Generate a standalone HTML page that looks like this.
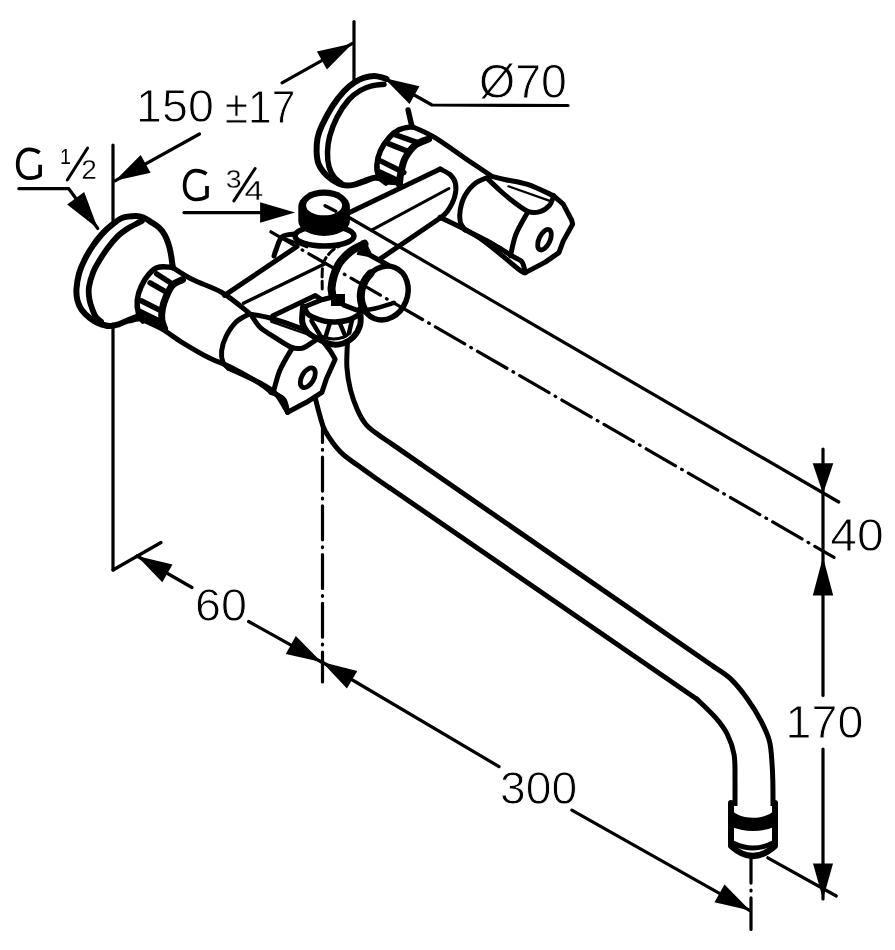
<!DOCTYPE html>
<html><head><meta charset="utf-8"><style>
html,body{margin:0;padding:0;background:#fff;}
svg{display:block;}
text{font-family:"Liberation Sans",sans-serif;fill:#000;stroke:none;}
svg{will-change:transform;}
</style></head><body>
<svg width="895" height="950" viewBox="0 0 895 950" stroke="#000" fill="none" stroke-linecap="round" stroke-linejoin="round">
<line x1="113" y1="145" x2="113" y2="222" stroke-width="3.2" />
<line x1="113" y1="324" x2="113" y2="570" stroke-width="3.2" />
<line x1="113" y1="570" x2="161" y2="542.5" stroke-width="3.2" />
<path d="M137 556 L162.3 582.3 L172.5 564.5 Z" fill="#000" stroke="none"/>
<line x1="137" y1="556" x2="192" y2="587.5" stroke-width="3.2" />
<line x1="248.6" y1="621.5" x2="321.4" y2="662" stroke-width="3.2" />
<path d="M321.4 662 L295.8 636 L285.8 653.9 Z" fill="#000" stroke="none"/>
<text x="0" y="0" transform="translate(195.06 621.08) scale(1.0035 1)" font-size="46.61" style="stroke:#fff;stroke-width:0.9px">60</text>
<line x1="322.5" y1="421" x2="322.5" y2="682" stroke-width="3.2" stroke-dasharray="33.9 7 0.8 7" stroke-dashoffset="12.5"/>
<path d="M322 662 L346.9 688.6 L357.3 671 Z" fill="#000" stroke="none"/>
<line x1="322" y1="662" x2="499" y2="766.6" stroke-width="3.2" />
<line x1="571.8" y1="810.2" x2="750" y2="910.6" stroke-width="3.2" />
<path d="M750 910.6 L724.5 884.5 L714.5 902.3 Z" fill="#000" stroke="none"/>
<text x="0" y="0" transform="translate(500.09 803.58) scale(0.9822 1)" font-size="47.03" style="stroke:#fff;stroke-width:0.9px">300</text>
<line x1="751" y1="858" x2="751" y2="929.5" stroke-width="3.2" stroke-dasharray="33.9 7 0.8 7" stroke-dashoffset="8.8"/>
<line x1="823" y1="449" x2="823" y2="695.4" stroke-width="3.2" />
<line x1="823" y1="749" x2="823" y2="899" stroke-width="3.2" />
<path d="M823 493.7 L833.3 463.3 L812.7 463.3 Z" fill="#000" stroke="none"/>
<path d="M823 557 L812.8 595.6 L833.2 595.6 Z" fill="#000" stroke="none"/>
<path d="M823 899 L833 863.4 L813 863.4 Z" fill="#000" stroke="none"/>
<text x="0" y="0" transform="translate(830.14 551.10) scale(1.0596 1)" font-size="45.48" style="stroke:#fff;stroke-width:0.9px">40</text>
<text x="0" y="0" transform="translate(785.61 738.19) scale(1.0142 1)" font-size="45.90" style="stroke:#fff;stroke-width:0.9px">170</text>
<line x1="354" y1="21.5" x2="354" y2="80" stroke-width="3.2" />
<path d="M352.5 43.4 L316.9 51.5 L326.9 69.4 Z" fill="#000" stroke="none"/>
<line x1="352.5" y1="43.4" x2="282" y2="82.8" stroke-width="3.2" />
<line x1="199.5" y1="134" x2="115" y2="180.8" stroke-width="3.2" />
<path d="M115 180.8 L150.6 172.8 L140.7 154.9 Z" fill="#000" stroke="none"/>
<text x="0" y="0" transform="translate(136.11 122.18) scale(0.9958 1)" font-size="46.75" style="stroke:#fff;stroke-width:0.9px">150</text>
<text x="0" y="0" transform="translate(224.69 122.65) scale(0.9135 1)" font-size="46.66" style="stroke:#fff;stroke-width:0.9px">±17</text>
<path d="M384 78 L409.5 104.1 L419.5 86.2 Z" fill="#000" stroke="none"/>
<path d="M384 78 L432 105 L568 105.5" stroke-width="3.2" fill="none" />
<text x="0" y="0" transform="translate(479.02 97.81) scale(0.9769 1)" font-size="47.57" style="stroke:#fff;stroke-width:0.9px">Ø70</text>
<path d="M39.6 152.7 C36.1 150.2 32.6 149.3 29.1 149.3 C22.1 149.3 17.7 155.7 17.7 164.2 C17.7 172.7 22.1 178.2 29.1 178.2 C33.1 178.2 37.1 177.2 40.1 175.2 L40.1 164.7" stroke-width="3.7" stroke-linecap="butt"/>
<text x="0" y="0" transform="translate(60.00 164.00) scale(0.8754 1)" font-size="22.53" style="stroke:#fff;stroke-width:0px">1</text>
<line x1="67.3" y1="180" x2="87.6" y2="148" stroke-width="3" />
<text x="0" y="0" transform="translate(81.35 179.45) scale(1.0258 1)" font-size="27.36" style="stroke:#fff;stroke-width:0.3px">2</text>
<path d="M18.8 188.7 L68.8 188.7 L97.8 228.5" stroke-width="3.2" fill="none" />
<path d="M97.8 228.5 L84.2 192 L67.2 204.4 Z" fill="#000" stroke="none"/>
<path d="M206.5 174.0 C203.0 171.5 199.5 170.6 196.0 170.6 C189.0 170.6 184.6 177.0 184.6 185.5 C184.6 194.0 189.0 199.5 196.0 199.5 C200.0 199.5 204.0 198.5 207.0 196.5 L207.0 186.0" stroke-width="3.7" stroke-linecap="butt"/>
<text x="0" y="0" transform="translate(225.77 187.69) scale(1.1019 1)" font-size="25.85" style="stroke:#fff;stroke-width:0.3px">3</text>
<line x1="233.9" y1="200.9" x2="255.1" y2="168.5" stroke-width="3" />
<text x="0" y="0" transform="translate(244.57 200.35) scale(1.2158 1)" font-size="27.91" style="stroke:#fff;stroke-width:0.3px">4</text>
<line x1="184" y1="212.6" x2="260" y2="212.6" stroke-width="3.2" />
<path d="M295.1 212.6 L260.1 202.3 L260.1 222.8 Z" fill="#000" stroke="none"/>
<path d="M384 179 C382.4 178.8 378 177.3 374.7 177.7 C371.4 178.1 367.6 180.1 364 181.3 C360.4 182.5 356.9 184.3 353.3 184.9 C349.7 185.5 346.1 185.8 342.5 184.9 C338.9 184 334.9 181.6 331.8 179.5 C328.7 177.4 326 175.1 323.8 172.4 C321.6 169.7 319.6 166.8 318.4 163.4 C317.2 160 316.8 156 316.6 151.8 C316.5 147.6 316.7 142.7 317.5 138.4 C318.3 134.1 319.1 131.4 321.6 126.1 C324.1 120.8 328.6 112.2 332.3 106.4 C336 100.6 340.3 95.2 344 91.2 C347.7 87.2 351.4 84.5 354.7 82.3 C358 80.1 360.3 78.8 363.6 77.8 C366.9 76.8 371 76 374.3 76 C377.6 76 381.3 77.3 383.3 77.8 C385.3 78.3 386 78.8 386.5 79" stroke-width="6" fill="none" />
<path d="M384 84.3 C382 84.5 375.8 84.8 371.8 85.8 C367.8 86.8 364.1 88.2 360.2 90.5 C356.3 92.8 352.5 95.4 348.6 99.9 C344.7 104.4 340.1 111.2 337 117.3 C333.9 123.3 331.3 130.4 329.7 136.2 C328.1 142 327.6 147 327.5 152.1 C327.4 157.2 327.9 162.6 329 166.7 C330.1 170.8 331.9 174 334 176.8 C336.1 179.6 340.1 182.3 341.3 183.4" stroke-width="5.5" fill="none" />
<line x1="408.1" y1="110" x2="411.8" y2="126" stroke-width="5.5" />
<path d="M412.5 126.7 C410.3 127.2 403.3 127.8 399.4 129.6 C395.5 131.4 392.3 134.1 389.2 137.6 C386.1 141.1 382.6 146.1 380.5 150.7 C378.4 155.3 377.1 160.8 376.9 165.2 C376.7 169.5 377.6 173.8 379.1 176.8 C380.6 179.8 384.9 182 386 183" stroke-width="5.5" fill="none" />
<path d="M428.5 139.1 C426.3 140.1 419.3 141.8 415.4 144.9 C411.5 148.1 407.6 153.4 405.2 158 C402.8 162.6 401.9 168.2 400.9 172.5 C399.9 176.8 399.6 182.2 399.4 184.1" stroke-width="7" fill="none" />
<line x1="395" y1="134.7" x2="419.7" y2="143.4" stroke-width="5.5" />
<line x1="387.8" y1="143.4" x2="409.6" y2="152.1" stroke-width="5.5" />
<line x1="380.5" y1="160.9" x2="403.8" y2="172.5" stroke-width="5.5" />
<line x1="377.6" y1="171" x2="399.4" y2="181.2" stroke-width="5.5" />
<path d="M377 172 L399.4 181.2 L399.4 185 L386 184 L379 178 Z" stroke-width="1" fill="#000" />
<path d="M412.5 126.7 C416.2 128.5 425.2 131.6 435 137.6 C444.8 143.6 462.1 156.3 471.3 162.5 C480.5 168.7 486.9 172.9 490 175" stroke-width="5" fill="none" />
<path d="M224.5 295.4 L297 246.5" stroke-width="5" fill="none" />
<path d="M349.5 212.5 L440.2 169" stroke-width="5" fill="none" />
<path d="M440.2 169 C441.9 170 447.8 172.5 450.4 174.9 C452.9 177.3 454.8 180 455.5 183.6 C456.2 187.2 456 192 454.7 196.6 C453.4 201.2 449.9 207.6 447.5 211.2 C445.1 214.8 441.4 216.9 440.2 218" stroke-width="5" fill="none" />
<line x1="243.5" y1="303.2" x2="325.4" y2="263.5" stroke-width="3.5" />
<line x1="371.6" y1="230.1" x2="448.9" y2="188.5" stroke-width="3" />
<line x1="379.1" y1="259.6" x2="440.2" y2="218" stroke-width="5" />
<path d="M440 217.3 C446.5 220.7 466.1 229 479.1 237.6 C492.1 246.2 510.5 263.1 518.2 268.9 C525.9 274.7 524.1 272 525.3 272.6" stroke-width="5" fill="none" />
<path d="M490 175.8 C492.6 176.5 499.4 178.3 505.7 179.7 C512 181.1 519.6 181.7 527.6 184.4 C535.6 187.1 549.4 193.9 553.7 195.8" stroke-width="5" fill="none" />
<path d="M553.7 195.8 L563.2 204.2 L571.6 220 L572.6 224.2 L563.2 241.1 L558.9 252.6 L545.3 262.1 L525.3 272.6" stroke-width="5" fill="none" />
<path d="M488.5 179.7 C490.4 181.5 496 186.9 500 190.5 C504 194.1 507.9 197.6 512.6 201.1 C517.3 204.6 523.8 209.8 528.4 211.6 C533 213.3 536.5 212.6 540 211.6 C543.5 210.6 547.2 207.9 549.5 205.3 C551.8 202.7 553 197.4 553.7 195.8" stroke-width="5" fill="none" />
<line x1="508.4" y1="186.3" x2="550.5" y2="201.1" stroke-width="2.2" />
<path d="M527.4 212.6 C525.5 216.3 518.6 227.5 515.8 234.7 C513 241.9 511.4 252.3 510.5 255.8" stroke-width="5" fill="none" />
<path d="M500 248.4 C502.3 249.8 510 254.5 513.7 256.8 C517.4 259.1 520.2 259.5 522.1 262.1 C524 264.7 524.8 270.9 525.3 272.6" stroke-width="5" fill="none" />
<path d="M490 176.6 C487.7 177.6 480.2 179.7 476 182.8 C471.8 185.9 467.6 191 465 195.4 C462.4 199.8 461.1 205 460.3 209.4 C459.5 213.8 459.5 218.6 460.3 222 C461.1 225.4 464.2 228.5 465 229.8" stroke-width="5" fill="none" />
<path d="M465 229.8 C468.6 231.6 481.1 237.6 486.9 240.7 C492.7 243.8 497.8 247.1 500 248.4" stroke-width="5" fill="none" />
<ellipse cx="544.5" cy="239.7" rx="5.5" ry="11" transform="rotate(25 544.5 239.7)" stroke-width="4.8" fill="none" />
<path d="M138.1 316.3 C136.6 316.9 132.5 318.6 129.2 319.9 C125.9 321.2 121.8 323.3 118.5 324.3 C115.2 325.3 112.8 326.2 109.5 326.1 C106.2 326 102.1 324.7 98.8 323.4 C95.5 322.1 92.7 320.3 89.9 318.1 C87.1 315.9 83.9 313 81.8 310 C79.7 307 78.3 303.8 77.4 300.2 C76.5 296.6 76.2 293.1 76.5 288.6 C76.8 284.1 77.8 278.2 79.1 273.4 C80.4 268.6 82.2 264.6 84.5 260 C86.8 255.4 89.6 250.5 92.6 246.1 C95.6 241.7 99.1 237.2 102.4 233.6 C105.7 230 108.9 227.3 112.2 224.7 C115.5 222.1 118.1 219.4 122 218 C125.9 216.6 132 216.1 135.6 216 C139.2 215.9 140.9 216.5 143.5 217.5 C146.1 218.5 148.7 220.5 151.3 222.2 C153.9 223.9 156.9 225.6 159.1 227.7 C161.3 229.8 163 232 164.6 234.7 C166.2 237.4 167.5 241 168.5 244.1 C169.5 247.2 170.2 250.1 170.8 253.5 C171.5 256.9 172 262 172.4 264.4 C172.8 266.8 173.1 267.1 173.2 267.6" stroke-width="6" fill="none" />
<path d="M141.9 221 C140.8 221.5 137.9 222.9 135.6 224.2 C133.2 225.4 130.7 226.6 127.8 228.5 C125 230.4 121.8 232.2 118.5 235.4 C115.2 238.6 110.8 243.8 107.7 247.9 C104.6 252 102.1 256.1 99.7 260 C97.3 263.9 95.2 267.1 93.4 271.6 C91.6 276.1 89.7 282.2 89 286.8 C88.3 291.4 88.8 295.4 89.4 299.3 C90 303.2 91.5 307 92.6 310 C93.7 313 94.7 315.3 96.1 317.2 C97.5 319.1 100.2 320.8 101 321.5" stroke-width="5.8" fill="none" />
<path d="M172.5 267.3 C170.1 267.3 161.8 266.2 157.9 267.3 C154 268.4 151.8 270.8 149 274 C146.2 277.2 143.1 282 141.2 286.3 C139.2 290.6 137.8 295.2 137.3 299.7 C136.8 304.2 137.5 309.6 138.4 313.1 C139.3 316.7 142.2 319.7 143 321" stroke-width="5.5" fill="none" />
<path d="M182.5 279.6 C180.8 280.5 175.3 282.2 172.5 285.2 C169.7 288.2 167.5 293.6 165.8 297.5 C164.1 301.4 163.1 304.9 162.4 308.6 C161.7 312.3 161.4 316.5 161.8 319.8 C162.2 323.1 164.1 327.2 164.6 328.7" stroke-width="7" fill="none" />
<line x1="156.8" y1="274" x2="172.5" y2="284" stroke-width="5.5" />
<line x1="150.1" y1="282.9" x2="165.8" y2="291.9" stroke-width="5.5" />
<line x1="141.2" y1="300.8" x2="159" y2="309.7" stroke-width="5.5" />
<line x1="138.9" y1="310.9" x2="156.8" y2="319.8" stroke-width="5.5" />
<path d="M138 312 L157 320 L162 320 L164 329 L150 325 L141 321 Z" stroke-width="1" fill="#000" />
<path d="M172.5 267.3 C175.8 269.4 184.2 275.3 192.6 279.6 C201 283.9 213.3 287.4 222.7 293 C232.1 298.6 244.8 309.8 249.2 313.2" stroke-width="5" fill="none" />
<path d="M130 320.9 C131.7 320.6 136.3 318.4 140 319 C143.7 319.6 148.4 322.5 152.3 324.3 C156.2 326.1 158.3 326.7 163.5 329.9 C168.7 333.1 175.8 338.6 183.6 343.3 C191.3 348 202.2 354.4 210 358.3 C217.8 362.2 222 362.8 230.3 367 C238.6 371.2 253.2 379.3 260 383.5 C266.8 387.7 269.2 390.9 271.1 392.4" stroke-width="5" fill="none" />
<path d="M228.9 368.4 C234.1 370.8 252.2 378.7 260 383 C267.9 387.3 271.4 389.1 276 394 C280.6 398.9 285.7 409.2 287.6 412.3" stroke-width="5" fill="none" />
<path d="M249.2 314 C247 315.3 240 318.2 236.1 322 C232.2 325.8 228.4 331.7 226 336.5 C223.6 341.3 222.1 346.6 221.6 351 C221.1 355.4 221.9 359.7 223.1 362.6 C224.3 365.5 227.9 367.4 228.9 368.4" stroke-width="5" fill="none" />
<path d="M249.2 314 C252.7 314.7 261.4 315.6 270 318 C278.6 320.4 292.6 325.1 300.9 328.3 C309.2 331.5 316.6 335.6 319.7 337.1" stroke-width="5" fill="none" />
<path d="M319.7 337.1 L330.7 351.5 L335.2 359.2 L326.3 379.1 L321.9 392.4 L306.4 402.3 L287.6 412.3" stroke-width="5" fill="none" />
<path d="M252 316 C253.3 317.9 256.3 323.7 260 327.2 C263.7 330.7 269.2 333.8 274.4 337.1 C279.6 340.4 286.4 345.2 291 347.1 C295.6 349 298.5 348.9 302 348.2 C305.5 347.4 309.1 344.5 312 342.6 C314.9 340.8 318.4 338 319.7 337.1" stroke-width="5" fill="none" />
<line x1="271.1" y1="321.6" x2="312" y2="336" stroke-width="2.2" />
<path d="M292.1 348.2 C290.1 351.9 283 362.9 279.9 370.3 C276.8 377.7 274.4 388.7 273.3 392.4" stroke-width="5" fill="none" />
<path d="M271.1 392.4 C272 392.8 274.4 393.3 276.6 394.6 C278.8 395.9 282.5 397.2 284.3 400.1 C286.1 403.1 287.1 410.3 287.6 412.3" stroke-width="5" fill="none" />
<ellipse cx="307.8" cy="377.7" rx="6" ry="10.8" transform="rotate(30 307.8 377.7)" stroke-width="4.8" fill="none" />
<ellipse cx="324.5" cy="236" rx="29.5" ry="10" transform="rotate(0 324.5 236)" stroke-width="5.5" fill="#fff" />
<path d="M298.3 207 A25.8 17.5 0 0 1 349.9 207 L349.9 221 A25.8 15 0 0 1 298.3 221 Z" fill="#000" stroke="none"/>
<ellipse cx="324.1" cy="205.5" rx="18" ry="9.8" transform="rotate(0 324.1 205.5)" stroke-width="0" fill="#fff" stroke="none"/>
<line x1="325.1" y1="205.8" x2="335.8" y2="211.2" stroke-width="3.5" />
<path d="M295 234 C292.8 234.5 285.2 234.3 282 237 C278.8 239.7 277.3 246.8 276 250 C274.7 253.2 274.3 255 274 256" stroke-width="5" fill="none" />
<line x1="281" y1="237" x2="307" y2="247" stroke-width="2.5" />
<path d="M273 315.8 L315.4 295.6 L322.2 300.1" stroke-width="5" fill="none" />
<path d="M322.2 289 C322.4 284.9 321.5 270.6 323.1 264.3 C324.7 258 328.7 254.2 331.7 251 C334.7 247.8 339.6 246.2 341.2 245.3" stroke-width="3" fill="none" stroke-dasharray="8 4"/>
<path d="M364.5 243.8 C362.1 245.1 354.8 247.9 350.4 251.6 C346 255.2 341 259.7 337.9 265.7 C334.8 271.7 332.1 281.9 331.6 287.6 C331.1 293.3 332.9 296.9 334.7 300 C336.5 303.1 341.3 305.2 342.6 306.3" stroke-width="8" fill="none" />
<path d="M361.3 240.6 L365.5 240.6 L374 258 L356.6 254.7 Z" fill="#000" stroke="none"/>
<line x1="369.2" y1="254.7" x2="388" y2="265" stroke-width="5" />
<ellipse cx="384.5" cy="293" rx="23" ry="27.5" transform="rotate(22 384.5 293)" stroke-width="5.5" fill="#fff" />
<path d="M364 309.3 C363.6 308.4 362.3 305.7 361.8 303.7 C361.3 301.7 360.9 299.5 360.8 297.4 C360.7 295.2 360.9 293 361.3 290.8 C361.7 288.6 362.4 286.4 363.2 284.4 C364 282.3 365.1 280.3 366.3 278.5 C367.5 276.7 369.8 274.2 370.5 273.4" stroke-width="8" fill="none" />
<path d="M340 305 C343.5 305.8 355.1 309.5 361.1 310 C367.1 310.5 370.5 309.4 376 308.2 C381.5 307 391 303.8 394 302.9" stroke-width="4.5" fill="none" />
<path d="M303 306 Q318 298 333 298 Q350 300 360 309 L360 325 Q352 340 331 344 Q312 340 302 322 Z" fill="#fff" stroke="none"/>
<path d="M303.1 306.7 C303 309.3 301.5 318.1 302.3 322.4 C303.1 326.7 304.9 329.6 307.8 332.5 C310.7 335.4 315.7 337.6 319.6 339.6 C323.5 341.6 327.4 343.7 331.3 344.3 C335.2 344.9 339.4 344.7 343 343.5 C346.6 342.3 350.3 340.3 353.2 337.2 C356.1 334.1 359 329.4 360.2 324.7 C361.4 320 360.2 311.7 360.2 309.1" stroke-width="6" fill="none" />
<path d="M305 309 C305.7 310 305.9 313 309 315 C312.1 317 319.1 319.6 323.5 320.8 C327.9 322 331 322.1 335.2 322 C339.4 321.9 344.5 321.2 348.5 320 C352.5 318.8 357.6 315.5 359.4 314.6" stroke-width="5.5" fill="none" />
<path d="M304 307 L321.9 299.7 L333 297" stroke-width="5" fill="none" />
<path d="M343.8 305.2 L359 311" stroke-width="5" fill="none" />
<path d="M319.6 335.7 C321.6 336.2 327.3 338.6 331.3 338.8 C335.3 339.1 340.7 338.2 343.8 337.2 C346.9 336.1 349 333.3 350 332.5" stroke-width="3" fill="none" />
<line x1="311.5" y1="320.8" x2="320.5" y2="336" stroke-width="4.5" />
<line x1="329.7" y1="323.5" x2="325.5" y2="337" stroke-width="4.5" />
<line x1="340" y1="323.5" x2="345" y2="335.5" stroke-width="4.5" />
<line x1="352" y1="320" x2="349" y2="333" stroke-width="4.5" />
<path d="M331 294 L345 294 L345 306 L331 306 Z" fill="#000" stroke="none"/>
<path d="M347.4 343.3 C347.3 347.3 346.4 359.6 346.9 367.4 C347.4 375.2 348.7 382.9 350.5 390 C352.3 397.1 354.9 404.2 357.5 410 C360.1 415.8 362.6 420.4 366 424.5 C369.4 428.6 373.7 431.2 378 434.5 C382.3 437.8 385 439.3 392 444.1 C399 448.9 415.3 460.3 420 463.5" stroke-width="5" fill="none" />
<path d="M420 463.5 L713.9 666.8" stroke-width="5" fill="none" />
<path d="M713.9 666.8 C716.7 668.8 725.1 673.5 730.7 678.9 C736.3 684.3 742.6 692.2 747.6 699.2 C752.6 706.2 757.4 714 761 721 C764.6 728 767.7 734.3 769.5 741.3 C771.3 748.3 771.5 756.6 772 763.1 C772.5 769.6 772.6 772.9 772.8 780 C773 787.1 773 801.7 773 806" stroke-width="5" fill="none" />
<path d="M315.5 399 C316.2 401.8 318.4 410.7 320 416 C321.6 421.3 321.8 425 325.2 431 C328.6 437 334.9 446.1 340.3 451.8 C345.7 457.5 351.6 460.8 357.4 465.1 C363.2 469.4 369.6 473.9 375 477.7 C380.4 481.5 387.5 486.3 390 488" stroke-width="5" fill="none" />
<path d="M390 488 L697 699.2" stroke-width="5" fill="none" />
<path d="M697 699.2 C700.1 702.3 710.5 711.8 715.6 717.7 C720.7 723.6 724.3 728.3 727.4 734.5 C730.5 740.7 732.8 747.1 734.1 754.7 C735.4 762.3 734.9 771.5 735 780 C735.1 788.5 735 801.7 735 806" stroke-width="5" fill="none" />
<path d="M731 806 L731 846 Q753 866 775 846 L775 806 Z" fill="#fff" stroke="none"/>
<path d="M731 803 L731 846 Q753 866 775 846 L775 803" stroke-width="6"/>
<path d="M729 805 C733 822 773 822 777 805 L777 826 Q753 836 729 826 Z" fill="#000" stroke="none"/>
<path d="M733 843 Q753 853 773 843" stroke-width="5"/>
<line x1="350" y1="218" x2="838.7" y2="502" stroke-width="3.2" />
<line x1="270.9" y1="231.8" x2="834" y2="557.4" stroke-width="3.2" stroke-dasharray="33.9 7 0.8 7" stroke-dashoffset="4.8"/>
<line x1="767.8" y1="857.8" x2="836.3" y2="896" stroke-width="3.2" />
</svg>
</body></html>
